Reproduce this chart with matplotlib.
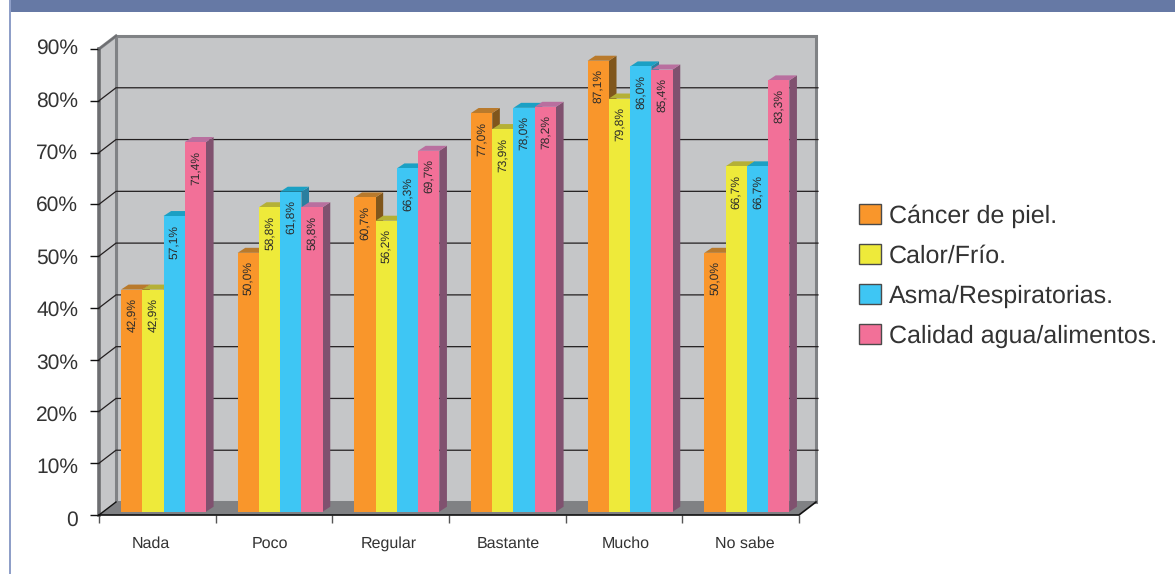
import matplotlib
matplotlib.use("Agg")
import matplotlib.pyplot as plt
from matplotlib.patches import Patch, Polygon, Rectangle
from matplotlib.transforms import Affine2D

plt.rcParams['font.family'] = ['Liberation Sans', 'DejaVu Sans']
plt.rcParams['text.hinting'] = 'no_hinting'
plt.rcParams['text.hinting_factor'] = 1

categories = ["Nada", "Poco", "Regular", "Bastante", "Mucho", "No sabe"]
series_names = ["Cáncer de piel.", "Calor/Frío.", "Asma/Respiratorias.", "Calidad agua/alimentos."]
cancer = [42.9, 50.0, 60.7, 77.0, 87.1, 50.0]
calor = [42.9, 58.8, 56.2, 73.9, 79.8, 66.7]
asma = [57.1, 61.8, 66.3, 78.0, 86.0, 66.7]
calidad = [71.4, 58.8, 69.7, 78.2, 85.4, 83.3]
y_ticks = [0, 10, 20, 30, 40, 50, 60, 70, 80, 90]
y_labels = ["0", "10%", "20%", "30%", "40%", "50%", "60%", "70%", "80%", "90%"]
cat_label_px = [151, 270, 389, 508, 626, 744.5]

front = ["#f9962b", "#eeea3a", "#3ec6f4", "#f27098"]
top = ["#b97a2c", "#b5b036", "#1ba0c4", "#b96f9f"]
side = ["#80561c", "#8a8a30", "#2a7f9f", "#80516f"]

W, H = 1175, 574
fig = plt.figure(figsize=(W / 100, H / 100), dpi=100, facecolor="white")
L, R, B, T = 99, 799, 515, 49
ax = fig.add_axes([L / W, 1 - B / H, (R - L) / W, (B - T) / H])
ax.set_xlim(0, 6)
ax.set_ylim(0, 90)
ax.patch.set_visible(False)
for s in ax.spines.values():
    s.set_visible(False)

# pixel -> data scale factors
px = 6 / (R - L)
py = 90 / (B - T)
wall_dx, wall_dy = 17 * px, 13 * py
base_dy = 3.3 * py
bar_dx, bar_dy = 7.6 * px, 5 * py
group_off = 22 * px
bar_w = 21.25 * px

# page frame
fig.add_artist(Rectangle((9 / W, 1 - 12 / H), (W - 9) / W, 12 / H, transform=fig.transFigure,
                         fc="#6679a5", ec="none"))
fig.add_artist(Rectangle((9 / W, 0), 1.5 / W, 1, transform=fig.transFigure, fc="#8f9fc8", ec="none"))

# walls
ax.add_patch(Polygon([(wall_dx, wall_dy), (6 + wall_dx, wall_dy), (6 + wall_dx, 90 + wall_dy), (wall_dx, 90 + wall_dy)],
                     fc="#c5c6c8", ec="#808285", lw=2.2, clip_on=False, zorder=1))
ax.add_patch(Polygon([(0, 0), (wall_dx, wall_dy), (wall_dx, 90 + wall_dy), (0, 90)],
                     fc="#c5c6c8", ec="none", clip_on=False, zorder=1))
ax.plot([0, wall_dx], [90, 90 + wall_dy], color="#808285", lw=2.2, clip_on=False, zorder=1.5)
ax.plot([wall_dx, wall_dx], [wall_dy, 90 + wall_dy], color="#808285", lw=2.2, clip_on=False, zorder=1.5)
ax.plot([0, 0], [0, 90], color="#6d6e71", lw=2.6, clip_on=False, zorder=1.5)

# gridlines on walls
for v in y_ticks[1:-1]:
    ax.plot([0, wall_dx, 6 + wall_dx + 2 * px], [v, v + wall_dy, v + wall_dy],
            color="#231f20", lw=0.9, clip_on=False, zorder=2)
ax.plot([0, wall_dx], [90, 90 + wall_dy], color="#6d6e71", lw=1.2, clip_on=False, zorder=2)

# floor
ax.add_patch(Polygon([(0, 0), (6, 0), (6 + wall_dx, wall_dy), (wall_dx, wall_dy)],
                     fc="#808184", ec="none", clip_on=False, zorder=2))
ax.plot([0, 6, 6 + wall_dx], [0, 0, wall_dy], color="#111111", lw=1.2, clip_on=False, zorder=2.2)
ax.plot([0, wall_dx], [0, wall_dy], color="#111111", lw=1.0, clip_on=False, zorder=2.2)

# bars
series = [cancer, calor, asma, calidad]
z = 3
for c in range(len(categories)):
    for k, vals in enumerate(series):
        v = vals[c]
        x0 = c + group_off + k * bar_w
        x1 = x0 + bar_w
        y0 = base_dy
        y1 = v + base_dy
        ax.add_patch(Polygon([(x1, y0), (x1 + bar_dx, y0 + bar_dy), (x1 + bar_dx, y1 + bar_dy), (x1, y1)],
                             fc=side[k], ec="none", clip_on=False, zorder=z))
        ax.add_patch(Polygon([(x0, y1), (x0 + bar_dx, y1 + bar_dy), (x1 + bar_dx, y1 + bar_dy), (x1, y1)],
                             fc=top[k], ec="none", clip_on=False, zorder=z))
        ax.bar(x0, v, width=bar_w, bottom=y0, align="edge", color=front[k], clip_on=False, zorder=z + 0.1)
        ax.text((x0 + x1) / 2, y1 - 8.5 * py, f"{v:.1f}%".replace(".", ","), rotation=90,
                ha="center", va="top", fontsize=8.6, color="#2b2b2b", clip_on=False, zorder=z + 0.2)
        z += 0.5

# axes ticks
ax.set_yticks(y_ticks)
ax.set_yticklabels(y_labels, fontsize=15, color="#333333")
ax.tick_params(axis="y", length=6.5, width=1.0, color="#111111", pad=8.5)
for lab, v in zip(ax.get_yticklabels(), y_ticks):
    lab.set_transform(lab.get_transform() + Affine2D().translate(0, -3 + v / 90 * 5.7))
ax.set_xticks([(p - L) * px for p in cat_label_px])
ax.set_xticklabels(categories, fontsize=11.3, color="#333333")
ax.tick_params(axis="x", which="major", length=0, pad=15)
ax.set_xticks(range(7), minor=True)
ax.tick_params(axis="x", which="minor", length=6, width=1.0, color="#555555")

# legend
handles = [Patch(facecolor=f, edgecolor="#4a4a4a", linewidth=1.0, label=n) for f, n in zip(front, series_names)]
fig.legend(handles=handles, loc="upper left", bbox_to_anchor=(859 / W, 1 - 204 / H), frameon=False,
           fontsize=18.28, handlelength=0.85, handleheight=0.85, handletextpad=0.33,
           labelspacing=0.62, borderpad=0, borderaxespad=0, labelcolor="#333333")

fig.savefig("out.png", dpi=100, facecolor="white")
